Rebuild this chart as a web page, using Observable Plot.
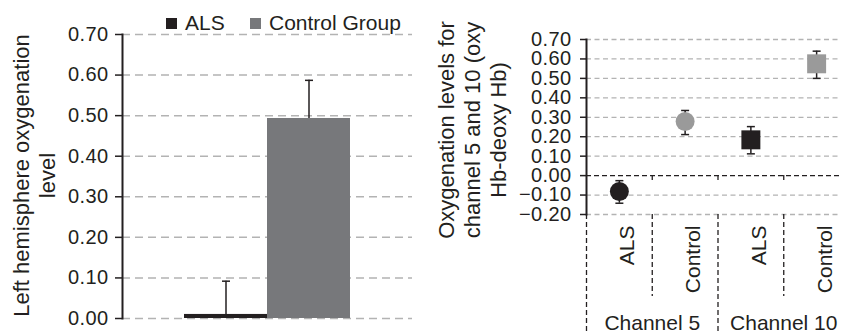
<!DOCTYPE html>
<html><head><meta charset="utf-8">
<script src="https://cdn.jsdelivr.net/npm/d3@7"></script>
<script src="https://cdn.jsdelivr.net/npm/@observablehq/plot@0.6"></script>
<style>
body{margin:0;background:#fff;overflow:hidden}
#wrap{position:relative;width:841px;height:332px;overflow:hidden;font-family:"Liberation Sans",Arial,sans-serif;color:#231f20}
#wrap > *{position:absolute}
.sw{width:11px;height:11px}
.lt{font-size:21px;line-height:21px;white-space:nowrap}
svg [aria-label="y-axis tick label"] text{letter-spacing:0.4px}
</style></head><body><div id="wrap"></div>
<script>
// ---- Left panel data ----
const leftGroups = ["ALS", "Control Group"];
const leftValues = [0.01, 0.493];
const leftUpper = [0.092, 0.587];
const leftColors = ["#231f20", "#77787b"];
const leftTicks = [0, 0.1, 0.2, 0.3, 0.4, 0.5, 0.6, 0.7];
const leftLabel = "Left hemisphere oxygenation\nlevel";

// ---- Right panel data ----
const channels = ["Channel 5", "Channel 10"];
const groups = ["ALS", "Control"];
const rightValues = [-0.082, 0.278, 0.184, 0.575];
const rightLow = [-0.142, 0.211, 0.112, 0.50];
const rightHigh = [-0.026, 0.335, 0.252, 0.64];
const rightColors = ["#231f20", "#9a9a9a", "#231f20", "#9a9a9a"];
const rightTicks = [-0.2, -0.1, 0, 0.1, 0.2, 0.3, 0.4, 0.5, 0.6, 0.7];
const rightLabel = "Oxygenation levels for\nchannel 5 and 10 (oxy\nHb-deoxy Hb)";

const FONT = '"Liberation Sans", Arial, sans-serif';
const INK = "#231f20";
const GRID = "#b3b3b3";
const fmt = d3.format(".2f");
const cap = {draw(ctx) { ctx.moveTo(-4, 0); ctx.lineTo(4, 0); }};

const leftData = leftGroups.map((g, i) => ({group: g, value: leftValues[i], upper: leftUpper[i], color: leftColors[i]}));
const rightData = channels.flatMap((c, ci) => groups.map((g, gi) => {
  const i = ci * groups.length + gi;
  return {channel: c, group: g, pos: i + 0.5, value: rightValues[i], low: rightLow[i], high: rightHigh[i], color: rightColors[i]};
}));
const n = rightData.length;
const dividers = d3.range(n + 1).map(i => ({pos: i, major: i % groups.length === 0}));
const channelCenters = channels.map((c, ci) => ({channel: c, pos: (ci + 0.5) * groups.length}));

const wrap = document.getElementById("wrap");
const place = (el, left, top) => { el.style.left = left + "px"; el.style.top = top + "px"; wrap.appendChild(el); };

// ---- Left chart ----
const left = Plot.plot({
  width: 420, height: 332, marginTop: 34, marginBottom: 14, marginLeft: 122, marginRight: 8,
  style: {fontFamily: FONT, fontSize: "20px", color: INK, background: "transparent", overflow: "visible"},
  x: {domain: leftGroups, paddingInner: 0, paddingOuter: 0.735, axis: null},
  y: {domain: [0, 0.7], axis: null},
  color: {type: "identity"},
  marks: [
    Plot.ruleY(leftTicks, {stroke: GRID, strokeWidth: 1.5, strokeDasharray: "8,5"}),
    Plot.barY(leftData, {x: "group", y: "value", fill: "color"}),
    Plot.ruleX(leftData, {x: "group", y1: "value", y2: "upper", stroke: INK, strokeWidth: 1.5}),
    Plot.dot(leftData, {x: "group", y: "upper", symbol: cap, fill: "none", stroke: INK, strokeWidth: 1.5}),
    Plot.frame({anchor: "left", stroke: INK, strokeWidth: 2}),
    Plot.axisY({ticks: leftTicks, tickFormat: fmt, tickSize: 7, tickPadding: 7, label: null, stroke: INK, strokeWidth: 1.5}),
    Plot.text([leftLabel], {frameAnchor: "left", textAnchor: "middle", lineAnchor: "middle", rotate: -90, dx: -89, dy: -1, fontSize: 22, lineHeight: 1.2, fill: INK})
  ]
});
place(left, 0, 0);

// legend
leftGroups.forEach((g, i) => {
  const sw = document.createElement("div");
  sw.className = "sw"; sw.style.background = leftColors[i];
  place(sw, [166, 250][i], 18);
  const t = document.createElement("div");
  t.className = "lt"; t.textContent = g;
  place(t, [185, 269][i], 12);
});

// ---- Right chart (top: plot area) ----
const rightTop = Plot.plot({
  width: 429, height: 214, marginTop: 39, marginBottom: 0, marginLeft: 166, marginRight: 0,
  style: {fontFamily: FONT, fontSize: "20px", color: INK, background: "transparent", overflow: "visible"},
  x: {domain: [0, n], axis: null},
  y: {domain: [-0.2, 0.7], axis: null},
  color: {type: "identity"},
  marks: [
    Plot.ruleY(rightTicks.filter(t => t !== 0), {stroke: GRID, strokeWidth: 1.3, strokeDasharray: "5,3.5"}),
    Plot.ruleY([0], {stroke: INK, strokeWidth: 1.3, strokeDasharray: "5,3"}),
    Plot.ruleX(dividers.filter(d => d.pos > 0 && d.pos < n), {x: "pos", y1: 0, y2: 0, insetBottom: -5, stroke: INK, strokeWidth: 1.3}),
    Plot.ruleX(rightData, {x: "pos", y1: "low", y2: "high", stroke: INK, strokeWidth: 1.5}),
    Plot.dot(rightData, {x: "pos", y: "low", symbol: cap, fill: "none", stroke: INK, strokeWidth: 1.5}),
    Plot.dot(rightData, {x: "pos", y: "high", symbol: cap, fill: "none", stroke: INK, strokeWidth: 1.5}),
    Plot.dot(rightData.filter(d => d.channel === channels[0]), {x: "pos", y: "value", r: 9.5, symbol: "circle", fill: "color"}),
    Plot.dot(rightData.filter(d => d.channel === channels[1]), {x: "pos", y: "value", r: 10.7, symbol: "square", fill: "color"}),
    Plot.frame({anchor: "left", stroke: INK, strokeWidth: 2}),
    Plot.axisY({ticks: rightTicks, tickFormat: fmt, tickSize: 6, tickPadding: 9, label: null, stroke: INK, strokeWidth: 1.5}),
    Plot.text([rightLabel], {frameAnchor: "left", textAnchor: "middle", lineAnchor: "middle", rotate: -90, dx: -115, dy: 3, fontSize: 22, lineHeight: 1.2, fill: INK})
  ]
});
place(rightTop, 420, 0);

// ---- Right chart (bottom: category area) ----
const rightBottom = Plot.plot({
  width: 429, height: 118, marginTop: 0, marginBottom: 0, marginLeft: 166, marginRight: 0,
  style: {fontFamily: FONT, fontSize: "21px", color: INK, background: "transparent", overflow: "visible"},
  x: {domain: [0, n], axis: null},
  marks: [
    Plot.ruleX(dividers.filter(d => d.major), {x: "pos", stroke: INK, strokeWidth: 1.3, strokeDasharray: "5,3"}),
    Plot.ruleX(dividers.filter(d => !d.major), {x: "pos", insetBottom: 36, stroke: INK, strokeWidth: 1.3, strokeDasharray: "5,3"}),
    Plot.text(rightData, {x: "pos", text: "group", frameAnchor: "top", rotate: -90, textAnchor: "end", dy: 11, fontSize: 21, fill: INK}),
    Plot.text(channelCenters, {x: "pos", text: "channel", frameAnchor: "bottom", lineAnchor: "bottom", dy: -3, fontSize: 21, fill: INK})
  ]
});
place(rightBottom, 420, 214);
</script></body></html>
